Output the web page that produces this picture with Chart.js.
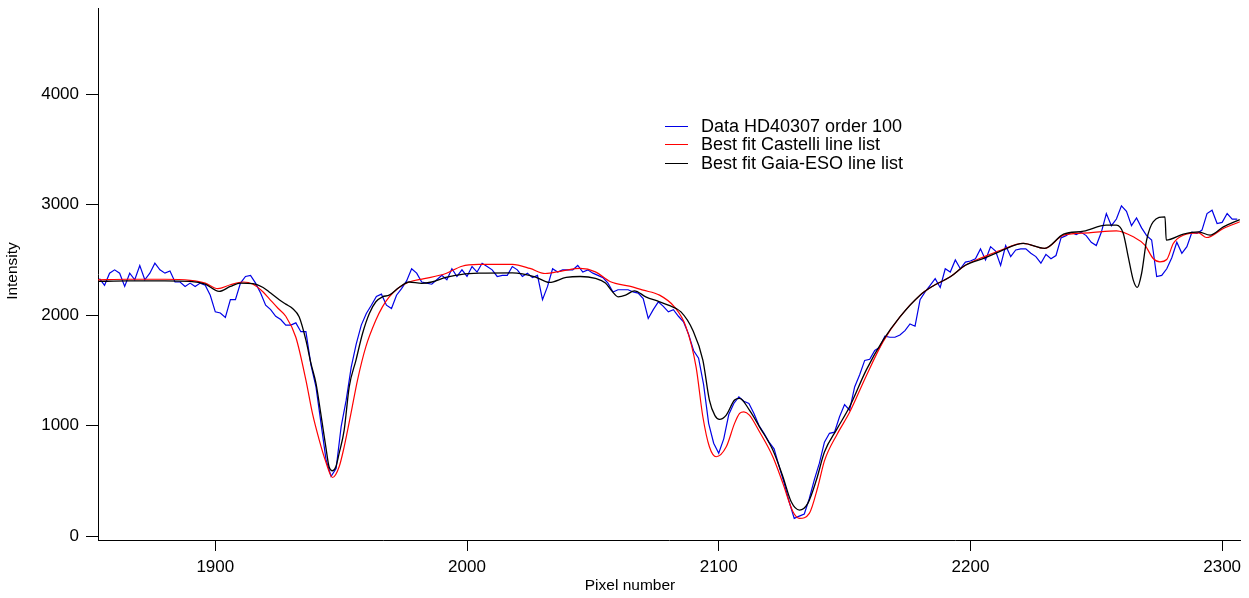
<!DOCTYPE html>
<html lang="en">
<head>
<meta charset="UTF-8">
<title>HD40307 order 100</title>
<script src="https://cdn.jsdelivr.net/npm/chart.js"></script>
<style>
  body { margin: 0; background: #fff; }
  #spec { display: block; }
</style>
</head>
<body>
<canvas id="spec" width="1249" height="598"></canvas>
<script>
// observed spectrum, one value every 2 pixels starting at pixel 1854
const dataStart = 1854;
const dataStep = 2;
const dataIntensity = [
  2330, 2270, 2380, 2410, 2380, 2260, 2380, 2320, 2450, 2320,
  2380, 2470, 2410, 2380, 2400, 2300, 2300, 2260, 2290, 2260,
  2290, 2270, 2180, 2030, 2020, 1980, 2140, 2140, 2290, 2350,
  2360, 2290, 2200, 2090, 2050, 1990, 1960, 1910, 1910, 1930,
  1850, 1850, 1550, 1350, 1020, 690, 540, 610, 990, 1230,
  1530, 1740, 1910, 2015, 2090, 2170, 2190, 2090, 2060, 2180,
  2240, 2310, 2420, 2380, 2300, 2290, 2280, 2320, 2360, 2320,
  2420, 2350, 2410, 2350, 2440, 2390, 2470, 2440, 2410, 2350,
  2360, 2360, 2440, 2410, 2350, 2380, 2340, 2360, 2140, 2260,
  2420, 2390, 2410, 2410, 2410, 2450, 2390, 2410, 2380, 2360,
  2340, 2290, 2210, 2230, 2230, 2230, 2210, 2200, 2150, 1970,
  2050, 2120, 2080, 2030, 2050, 1990, 1940, 1830, 1680, 1610,
  1370, 1020, 840, 750, 880, 1100, 1200, 1260, 1220, 1200,
  1110, 1000, 930, 850, 790, 630, 480, 310, 160, 180,
  200, 340, 510, 660, 850, 930, 940, 1080, 1190, 1140,
  1350, 1460, 1590, 1600, 1680, 1710, 1810, 1800, 1800, 1820,
  1860, 1920, 1900, 2140, 2210, 2270, 2330, 2250, 2420, 2390,
  2500, 2420, 2480, 2490, 2510, 2600, 2500, 2620, 2580, 2450,
  2630, 2530, 2590, 2600, 2600, 2560, 2530, 2470, 2550, 2510,
  2540, 2700, 2720, 2750, 2730, 2750, 2720, 2660, 2630, 2750,
  2920, 2810, 2870, 2990, 2940, 2810, 2880, 2790, 2720, 2680,
  2350, 2360, 2420, 2520, 2660, 2560, 2620, 2750, 2740, 2770,
  2920, 2950, 2830, 2840, 2920, 2870, 2870
];

// best fit with the Castelli line list
const castelliPixel = [
  1853, 1865, 1880, 1890, 1896, 1901, 1906, 1911, 1915, 1919,
  1921.4, 1925, 1928, 1932, 1936, 1938.6, 1941.3, 1943.9, 1946.6, 1949.2,
  1951.2, 1953.9, 1956.5, 1959.8, 1963.8, 1966.4, 1969.1, 1973, 1977, 1983,
  1991.6, 1998, 2005, 2012, 2018, 2025, 2031, 2038, 2045, 2051,
  2057, 2064.5, 2070, 2076.5, 2082.4, 2087, 2091, 2093.7, 2096.3, 2099,
  2103, 2106.3, 2108.3, 2110, 2112.2, 2116.2, 2121.5, 2125.5, 2129.5, 2132.1,
  2136, 2139.4, 2142, 2147, 2152, 2158.6, 2165.3, 2172, 2180, 2185,
  2192, 2198, 2206, 2212, 2221, 2229.5, 2237, 2247, 2258, 2264.7,
  2269.3, 2272.6, 2275.3, 2278, 2280.6, 2284.6, 2290.6, 2293.8, 2300.5, 2307
];
const castelliIntensity = [
  2320, 2325, 2325, 2315, 2290, 2240, 2275, 2300, 2280, 2210,
  2150, 2060, 1990, 1800, 1412, 1110, 869, 673, 530, 627,
  808, 1110, 1412, 1713, 1955, 2075, 2166, 2250, 2300, 2330,
  2377, 2443, 2459, 2460, 2459, 2423, 2377, 2401, 2423, 2392,
  2302, 2262, 2226, 2181, 2075, 1894, 1532, 1080, 808, 718,
  808, 1020, 1110, 1125, 1095, 944, 718, 477, 220, 160,
  205, 446, 680, 920, 1120, 1450, 1760, 1985, 2181, 2262,
  2347, 2452, 2534, 2588, 2649, 2604, 2724, 2745, 2763, 2709,
  2634, 2513, 2483, 2504, 2649, 2724, 2745, 2703, 2785, 2845
];

// best fit with the Gaia-ESO line list
const gaiaPixel = [
  1853, 1865, 1880, 1890, 1896, 1901.5, 1906, 1910, 1915, 1919,
  1921.4, 1925.4, 1928, 1930.7, 1933.3, 1936, 1938, 1940, 1941.9, 1943.9,
  1945.2, 1946.6, 1947.9, 1949.2, 1951.2, 1953.2, 1955.9, 1958.5, 1961.2, 1963.8,
  1966.4, 1969.1, 1973, 1977, 1982, 1986, 1991.6, 1998, 2005, 2018,
  2027, 2032.7, 2039.4, 2045, 2051, 2055, 2057.5, 2060, 2063, 2066.5,
  2071, 2076.5, 2080, 2085, 2089.7, 2093.7, 2096.3, 2098.5, 2100.3, 2103,
  2106.3, 2108.3, 2112.2, 2116.2, 2121.5, 2125.5, 2128.8, 2132.1, 2135.4, 2138.8,
  2142, 2147, 2152, 2158.6, 2165.3, 2172, 2180, 2185, 2192, 2198,
  2206, 2212, 2221, 2229.5, 2237, 2245, 2254, 2258, 2260.7, 2262.7,
  2264.7, 2266.3, 2268, 2270, 2272.6, 2277.3, 2277.8, 2284.6, 2290.6, 2295.2,
  2300.5, 2307
];
const gaiaIntensity = [
  2305, 2310, 2310, 2305, 2280, 2215, 2260, 2290, 2285, 2250,
  2210, 2140, 2100, 2060, 1985, 1774, 1563, 1382, 1110, 808,
  627, 591, 627, 748, 959, 1351, 1593, 1834, 2015, 2121,
  2166, 2181, 2250, 2300, 2287, 2300, 2341, 2370, 2380, 2383,
  2347, 2296, 2341, 2350, 2332, 2290, 2220, 2166, 2181, 2220,
  2166, 2121, 2090, 2030, 1864, 1593, 1231, 1090, 1056, 1095,
  1231, 1246, 1140, 989, 778, 537, 310, 235, 296, 507,
  760, 970, 1170, 1502, 1774, 1985, 2181, 2262, 2347, 2452,
  2520, 2580, 2649, 2604, 2733, 2760, 2815, 2815, 2742, 2528,
  2317, 2251, 2377, 2679, 2845, 2890, 2680, 2733, 2754, 2724,
  2799, 2865
];

const xTicks = [1900, 2000, 2100, 2200, 2300];
const yTicks = [0, 1000, 2000, 3000, 4000];
const seriesNames = ['Data HD40307 order 100', 'Best fit Castelli line list', 'Best fit Gaia-ESO line list'];
const seriesColors = ['#0000e6', '#ff0000', '#000000'];

const FONT = '"Liberation Sans", Arial, Helvetica, sans-serif';

function toPoints(xs, ys) {
  return ys.map((y, i) => ({ x: xs[i], y: y }));
}
const dataPixel = dataIntensity.map((_, i) => dataStart + i * dataStep);

// legend + axis titles drawn by hand, they sit inside the plot in the original
const extras = {
  id: 'extras',
  afterDraw(chart) {
    const ctx = chart.ctx;
    ctx.save();
    ctx.fillStyle = '#000';
    ctx.font = '15.5px ' + FONT;
    ctx.textAlign = 'center';
    ctx.textBaseline = 'middle';
    ctx.fillText('Pixel number', 630, 586);
    ctx.translate(13, 271);
    ctx.rotate(-Math.PI / 2);
    ctx.fillText('Intensity', 0, 0);
    ctx.restore();

    ctx.save();
    ctx.font = '18px ' + FONT;
    ctx.textAlign = 'left';
    ctx.textBaseline = 'middle';
    seriesNames.forEach((name, i) => {
      const y = 126 + i * 18.3;
      ctx.strokeStyle = seriesColors[i];
      ctx.lineWidth = 1;
      ctx.beginPath();
      ctx.moveTo(665, Math.round(y) + 0.5);
      ctx.lineTo(688, Math.round(y) + 0.5);
      ctx.stroke();
      ctx.fillStyle = '#000';
      ctx.fillText(name, 701, y + 1);
    });
    ctx.restore();
  }
};

// no extra room for tick labels at the ends of the axes
function noEndPadding(s) {
  s.paddingTop = 0;
  s.paddingBottom = 0;
  s.paddingLeft = 0;
  s.paddingRight = 0;
}

new Chart(document.getElementById('spec'), {
  type: 'line',
  data: {
    datasets: [
      {
        label: seriesNames[0],
        data: toPoints(dataPixel, dataIntensity),
        borderColor: seriesColors[0],
        borderWidth: 1.2,
        tension: 0,
        order: 3
      },
      {
        label: seriesNames[1],
        data: toPoints(castelliPixel, castelliIntensity),
        borderColor: seriesColors[1],
        borderWidth: 1.2,
        cubicInterpolationMode: 'monotone',
        order: 2
      },
      {
        label: seriesNames[2],
        data: toPoints(gaiaPixel, gaiaIntensity),
        borderColor: seriesColors[2],
        borderWidth: 1.3,
        cubicInterpolationMode: 'monotone',
        order: 1
      }
    ]
  },
  options: {
    responsive: false,
    animation: false,
    devicePixelRatio: 1,
    layout: { padding: { top: 8, right: 9, left: 0, bottom: 0 } },
    elements: { point: { radius: 0 } },
    plugins: { legend: { display: false }, tooltip: { enabled: false } },
    scales: {
      x: {
        type: 'linear',
        min: 1853.4,
        max: 2307.1,
        afterBuildTicks: s => { s.ticks = xTicks.map(v => ({ value: v })); },
        afterFit: s => { s.height = 58; noEndPadding(s); },
        ticks: {
          font: { family: FONT, size: 17 }, color: '#000', padding: 6,
          maxRotation: 0, autoSkip: false, callback: v => String(v)
        },
        grid: { drawOnChartArea: false, tickLength: 11, color: '#000' },
        border: { color: '#000', width: 1 }
      },
      y: {
        min: -36,
        max: 4781,
        afterBuildTicks: s => { s.ticks = yTicks.map(v => ({ value: v })); },
        afterFit: s => { s.width = 98; noEndPadding(s); },
        ticks: { font: { family: FONT, size: 17 }, color: '#000', padding: 7, callback: v => String(v) },
        grid: { drawOnChartArea: false, tickLength: 12, color: '#000' },
        border: { color: '#000', width: 1 }
      }
    }
  },
  plugins: [extras]
});
</script>
</body>
</html>
